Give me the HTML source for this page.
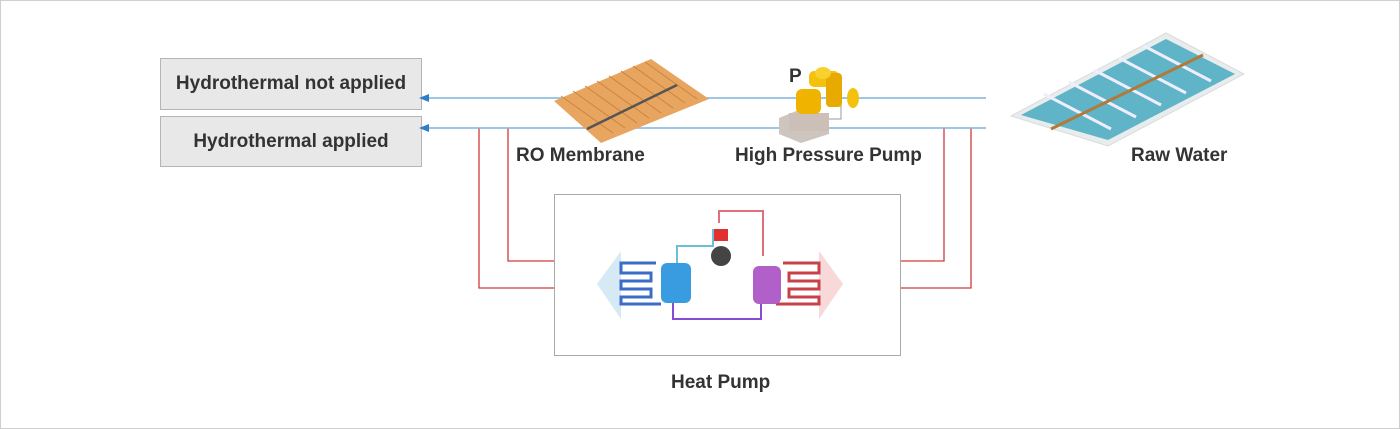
<!DOCTYPE html>
<html><head><meta charset="utf-8"><style>
body{margin:0;background:#fff;}
.wrap{position:relative;width:1398px;height:427px;border:1px solid #cfcfcf;overflow:hidden;font-family:"Liberation Sans",sans-serif;}
.box{position:absolute;background:#e8e8e8;border:1px solid #b5b5b5;font-size:19px;font-weight:bold;color:#333;display:flex;align-items:center;justify-content:center;}
.lbl{position:absolute;font-size:19px;font-weight:bold;color:#333;}
</style></head><body><div class="wrap">
<div class="box" style="left:159px;top:57px;width:260px;height:50px;">Hydrothermal not applied</div>
<div class="box" style="left:159px;top:115px;width:260px;height:49px;">Hydrothermal applied</div>
<svg width="1400" height="429" style="position:absolute;left:0;top:0">
<g stroke="#d03a3a" stroke-width="1.3" fill="none">
<polyline points="478,127 478,287 553,287"/>
<polyline points="507,127 507,260 553,260"/>
<polyline points="900,260 943,260 943,127"/>
<polyline points="900,287 970,287 970,127"/>
</g>
<g stroke="#7fb4de" stroke-width="1.5">
<line x1="424" y1="97" x2="985" y2="97"/>
<line x1="424" y1="127" x2="985" y2="127"/>
</g>
<polygon points="418,97 428,93 428,101" fill="#2d7fc9"/>
<polygon points="418,127 428,123 428,131" fill="#2d7fc9"/>
<polygon points="650,58 708,98 600,142 553,100" fill="#e8a560"/>
<g stroke="#c98540" stroke-width="1">
<line x1="560" y1="95" x2="612" y2="132"/><line x1="572" y1="90" x2="624" y2="127"/><line x1="584" y1="85" x2="636" y2="122"/><line x1="596" y1="80" x2="648" y2="117"/><line x1="608" y1="75" x2="660" y2="112"/><line x1="620" y1="70" x2="672" y2="107"/><line x1="632" y1="65" x2="684" y2="102"/><line x1="644" y1="61" x2="696" y2="98"/>
</g>
<line x1="586" y1="128" x2="676" y2="84" stroke="#555" stroke-width="2.5"/>
<polygon points="778,117 800,108 828,117 828,133 800,142 778,133" fill="#cfc5bf"/>
<rect x="788" y="112" width="40" height="18" fill="#cbbfb8"/>
<polyline points="828,101 840,101 840,118 828,118" stroke="#999" fill="none"/>
<rect x="795" y="88" width="25" height="25" rx="6" fill="#f0b400"/>
<rect x="808" y="70" width="30" height="16" rx="5" fill="#f4c20d"/>
<rect x="825" y="72" width="16" height="34" rx="4" fill="#e8aa00"/>
<ellipse cx="852" cy="97" rx="6" ry="10" fill="#f4c20d"/>
<ellipse cx="822" cy="72" rx="8" ry="6" fill="#f8d030"/>
<polygon points="1165,32 1243,73 1107,145 1010,115" fill="#e8ecec" stroke="#d8dcdc"/>
<polygon points="1165,38 1234,73 1107,139 1020,114" fill="#5fb4c8"/>
<g stroke="#eef" stroke-width="3">
<line x1="1143" y1="45" x2="1210" y2="80"/><line x1="1118" y1="57" x2="1185" y2="92"/><line x1="1093" y1="69" x2="1160" y2="104"/><line x1="1068" y1="81" x2="1135" y2="116"/><line x1="1043" y1="93" x2="1110" y2="128"/>
</g>
<line x1="1050" y1="128" x2="1202" y2="54" stroke="#b07a3a" stroke-width="3"/>
<rect x="553.5" y="193.5" width="346" height="161" fill="#fff" stroke="#aaa"/>
<polygon points="596,283 620,250 620,318" fill="#d6eaf5"/>
<polygon points="842,283 818,250 818,318" fill="#f8d8d8"/>
<g fill="none" stroke-width="3">
<path d="M655,262 H620 V272 H650 V280 H620 V288 H650 V296 H620 V303 H660" stroke="#3a6cc8"/>
<path d="M782,262 H818 V272 H788 V280 H818 V288 H788 V296 H818 V303 H775" stroke="#c84048"/>
<path d="M672,300 V318 H760 V300" stroke="#8a4ad8" stroke-width="2"/>
<path d="M676,262 V245 H712 V228" stroke="#6ac0d8" stroke-width="2"/>
<path d="M718,222 V210 H762 V255" stroke="#e07080" stroke-width="2"/>
</g>
<rect x="660" y="262" width="30" height="40" rx="6" fill="#3a9ce0"/>
<rect x="752" y="265" width="28" height="38" rx="6" fill="#b060c8"/>
<circle cx="720" cy="255" r="10" fill="#444"/>
<rect x="713" y="228" width="14" height="12" fill="#e03030"/>
</svg>
<div class="lbl" style="left:788px;top:65px;">P</div>
<div class="lbl" style="left:515px;top:144px;">RO Membrane</div>
<div class="lbl" style="left:734px;top:144px;">High Pressure Pump</div>
<div class="lbl" style="left:1130px;top:144px;">Raw Water</div>
<div class="lbl" style="left:670px;top:371px;">Heat Pump</div>
</div></body></html>
